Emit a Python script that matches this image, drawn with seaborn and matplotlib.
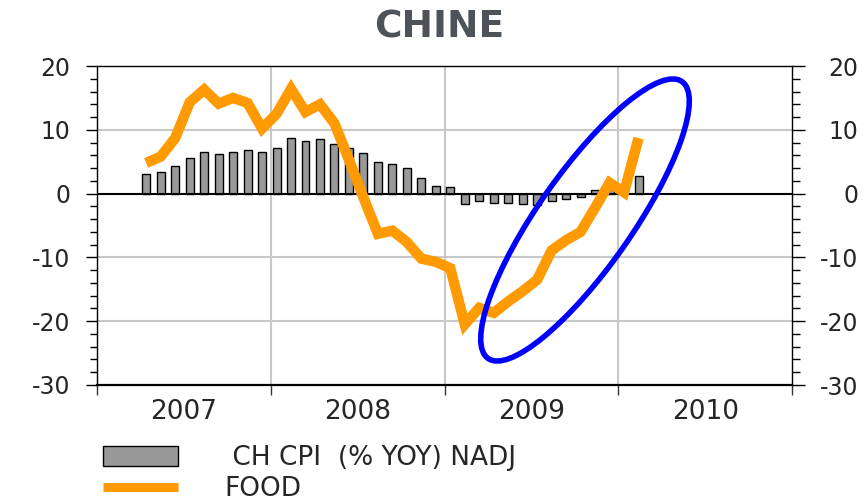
import pandas as pd
import matplotlib
matplotlib.use('Agg')
import matplotlib.pyplot as plt
import matplotlib.ticker as mticker
from matplotlib.patches import Ellipse, Patch
from matplotlib.lines import Line2D
from matplotlib.transforms import Affine2D
import seaborn as sns

# --- monthly data, Apr 2007 .. Feb 2010 ---
years = [2007] * 9 + [2008] * 12 + [2009] * 12 + [2010] * 2
months = list(range(4, 13)) + list(range(1, 13)) * 2 + [1, 2]

cpi = [3.0, 3.4, 4.4, 5.6, 6.5, 6.2, 6.5, 6.9, 6.5,
       7.1, 8.7, 8.3, 8.5, 7.7, 7.1, 6.3, 4.9, 4.6, 4.0, 2.4, 1.2,
       1.0, -1.6, -1.2, -1.5, -1.4, -1.7, -1.8, -1.2, -0.8, -0.5, 0.6, 1.9,
       1.5, 2.7]

food = [4.8, 5.8, 8.7, 14.3, 16.3, 14.1, 15.0, 14.2, 10.2,
        12.5, 16.4, 12.8, 14.0, 11.0, 5.3, -0.6, -6.3, -5.8, -7.6, -10.2, -10.7,
        -11.7, -20.5, -17.9, -18.7, -16.9, -15.3, -13.5, -8.9, -7.3, -6.0, -2.2, 1.7,
        0.2, 8.7]

year_labels = ['2007', '2008', '2009', '2010']
year_edges = [2007, 2008, 2009, 2010, 2011]
y_ticks = [-30, -20, -10, 0, 10, 20]

series_names = [' CH CPI  (% YOY) NADJ', 'FOOD']
bar_color = '#999999'
food_color = '#ff9a00'
grid_color = '#c8c8c8'

W, H = 865, 503

df = pd.DataFrame({
    't': [y + (m - 0.6) / 12 for y, m in zip(years, months)],
    'cpi': cpi,
    'food': food,
})

sns.set_style('white')
plt.rcParams['font.family'] = ['DejaVu Sans']
plt.rcParams['axes.unicode_minus'] = False

fig = plt.figure(figsize=(W / 100, H / 100), dpi=100)
ax = fig.add_axes([97 / W, 118 / H, 695 / W, 319 / H])

# grid lines
for yv in [-20, -10, 10]:
    ax.axhline(yv, color=grid_color, lw=1.5, zorder=0)
for xv in year_edges[1:-1]:
    ax.axvline(xv, color=grid_color, lw=1.5, zorder=0)

sns.barplot(data=df, x='t', y='cpi', native_scale=True, orient='x', width=0.55,
            color=bar_color, saturation=1, edgecolor='black', linewidth=1,
            errorbar=None, ax=ax, zorder=2)
ax.axhline(0, color='black', lw=1.5, zorder=3)
sns.lineplot(data=df, x='t', y='food', color=food_color, linewidth=7.5, ax=ax,
             zorder=4, solid_capstyle='butt', solid_joinstyle='miter')

ax.set_xlim(2007, 2011)
ax.set_ylim(-30, 20)
ax.set_xlabel('')
ax.set_ylabel('')

# x axis: ticks at year boundaries, labels centred in each year
ax.xaxis.set_major_locator(mticker.FixedLocator(year_edges))
ax.xaxis.set_major_formatter(mticker.NullFormatter())
ax.xaxis.set_minor_locator(mticker.FixedLocator([y + 0.5 for y in year_edges[:-1]]))
ax.xaxis.set_minor_formatter(mticker.FixedFormatter(year_labels))
ax.tick_params(axis='x', which='major', bottom=True, length=7, width=1, color='#333333', direction='out')
ax.tick_params(axis='x', which='minor', bottom=True, length=0, pad=10, labelsize=19)

# left y axis
ax.set_yticks(y_ticks)
ax.yaxis.set_minor_locator(mticker.MultipleLocator(2))
ax.tick_params(axis='y', which='major', left=True, length=8, width=1, color='black',
               direction='out', labelsize=17, pad=11)
ax.tick_params(axis='y', which='minor', left=True, length=5, width=1, color='black', direction='out')

# right y axis, labels right aligned
ax2 = ax.twinx()
ax2.set_ylim(-30, 20)
ax2.set_yticks(y_ticks)
ax2.yaxis.set_minor_locator(mticker.MultipleLocator(2))
ax2.tick_params(axis='y', which='major', right=True, length=9, width=1, color='black',
                direction='out', labelsize=17, pad=39)
ax2.tick_params(axis='y', which='minor', right=True, length=6, width=1, color='black', direction='out')
plt.setp(ax2.get_yticklabels(), ha='right')

for name, sp in ax.spines.items():
    sp.set_color('black')
    sp.set_linewidth(1.6 if name == 'bottom' else 1)
ax.spines['right'].set_visible(False)
for name in ['left', 'top', 'bottom']:
    ax2.spines[name].set_visible(False)
ax2.spines['right'].set_color('black')
ax2.spines['right'].set_linewidth(1)

# title
fig.text(439 / W, 1 - 28 / H, 'CHINE', ha='center', va='center', fontsize=27,
         weight='bold', color='#4d5358')

# blue ellipse highlighting the rebound (pixel units)
px = Affine2D().scale(1 / W, 1 / H) + fig.transFigure
fig.add_artist(Ellipse((585, H - 220), width=338, height=94, angle=55,
                       fill=False, edgecolor='#0000ff', lw=4, transform=px, zorder=5))

# legend
handles = [Patch(facecolor=bar_color, edgecolor='black', linewidth=1),
           Line2D([], [], color=food_color, lw=6.5, solid_capstyle='butt')]
fig.legend(handles, series_names, loc='upper left', bbox_to_anchor=(103 / W, 1 - 445 / H),
           frameon=False, fontsize=19, handlelength=2.85, handleheight=0.8,
           handletextpad=1.75, labelspacing=0.2, borderpad=0, borderaxespad=0)

fig.savefig('out.png', dpi=100)
